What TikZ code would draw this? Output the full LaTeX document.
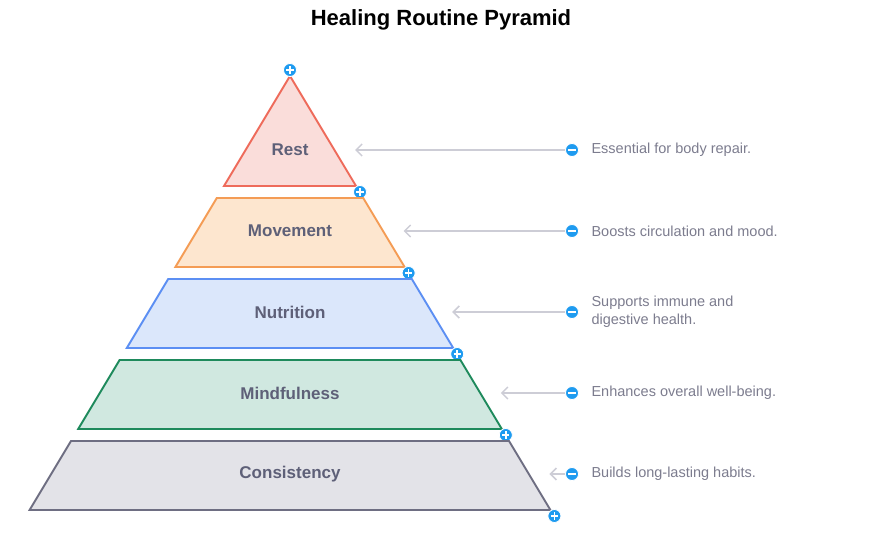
\documentclass[tikz,border=0pt]{standalone}
\usepackage{fontspec}
\setmainfont{Liberation Sans}
\usetikzlibrary{arrows.meta}

\definecolor{restfill}{HTML}{FADDDA}
\definecolor{restline}{HTML}{EE6B5B}
\definecolor{movefill}{HTML}{FDE6CF}
\definecolor{moveline}{HTML}{F49C55}
\definecolor{nutrfill}{HTML}{DBE7FB}
\definecolor{nutrline}{HTML}{5C8FF3}
\definecolor{mindfill}{HTML}{D0E8E0}
\definecolor{mindline}{HTML}{1E8A5C}
\definecolor{consfill}{HTML}{E3E3E8}
\definecolor{consline}{HTML}{6E6E82}
\definecolor{tiergray}{HTML}{5E6078}
\definecolor{notegray}{HTML}{7C7C8E}
\definecolor{arrowgray}{HTML}{CDCDD6}
\definecolor{iconblue}{HTML}{1E9BF0}

\begin{document}
\begin{tikzpicture}[
  x=1pt, y=-1pt,
  every node/.style={font=\fontsize{14.5}{18}\selectfont, text=notegray},
  layer/.style={line width=1.9pt, line join=miter},
  tier/.style={font=\fontsize{17}{20}\selectfont\bfseries, text=tiergray},
  hint/.style={draw=arrowgray, line width=1.5pt, -{Straight Barb[length=6pt,width=12pt]}},
  plusdot/.style={circle, fill=iconblue, draw=white, line width=0.8pt, minimum size=13pt, inner sep=0pt,
    path picture={\draw[white, line width=1.7pt] (path picture bounding box.center) +(-3.6pt,0) -- +(3.6pt,0) +(0,-3.6pt) -- +(0,3.6pt);}},
  minusdot/.style={circle, fill=iconblue, draw=white, line width=0.8pt, minimum size=13pt, inner sep=0pt,
    path picture={\draw[white, line width=2pt] (path picture bounding box.center) +(-3.6pt,0) -- +(3.6pt,0);}}
]
\useasboundingbox (0,0) rectangle (882,534);

% title
\node[font=\fontsize{22}{26}\selectfont\bfseries, text=black] (title) at (441,20) {Healing Routine Pyramid};

% tiers, top to bottom
\foreach \name/\txt/\note/\fc/\lc [count=\i from 0] in {
  rest/Rest/{Essential for body repair.}/restfill/restline,
  move/Movement/{Boosts circulation and mood.}/movefill/moveline,
  nutr/Nutrition/{Supports immune and\\digestive health.}/nutrfill/nutrline,
  mind/Mindfulness/{Enhances overall well-being.}/mindfill/mindline,
  cons/Consistency/{Builds long-lasting habits.}/consfill/consline} {
  \pgfmathsetmacro{\ytop}{\i==0 ? 76 : 117+81*\i}
  \pgfmathsetmacro{\ybot}{186+81*\i}
  \pgfmathsetmacro{\ymid}{\ybot-36}
  \pgfmathsetmacro{\tw}{0.6*(\ytop-76)}
  \pgfmathsetmacro{\bw}{0.6*(\ybot-76)}
  \ifnum\i=0
    \filldraw[layer, fill=\fc, draw=\lc] (290,\ytop) -- (290+\bw,\ybot) -- (290-\bw,\ybot) -- cycle;
  \else
    \filldraw[layer, fill=\fc, draw=\lc] (290-\tw,\ytop) -- (290+\tw,\ytop) -- (290+\bw,\ybot) -- (290-\bw,\ybot) -- cycle;
  \fi
  \node[tier] (\name) at (290,\ymid) {\txt};
  \node[plusdot] (\name-plus) at (294+\bw,\ybot+6) {};
  \coordinate (\name-tip) at (289+\bw,\ymid);
  \node[minusdot] (\name-dot) at (572,\ymid) {};
  \node[anchor=west, align=left] (\name-note) at (588,\ymid) {\note};
  \draw[hint] (\name-dot) -- (\name-tip);
}
\node[plusdot] (apex) at (290,70) {};

\end{tikzpicture}
\end{document}
